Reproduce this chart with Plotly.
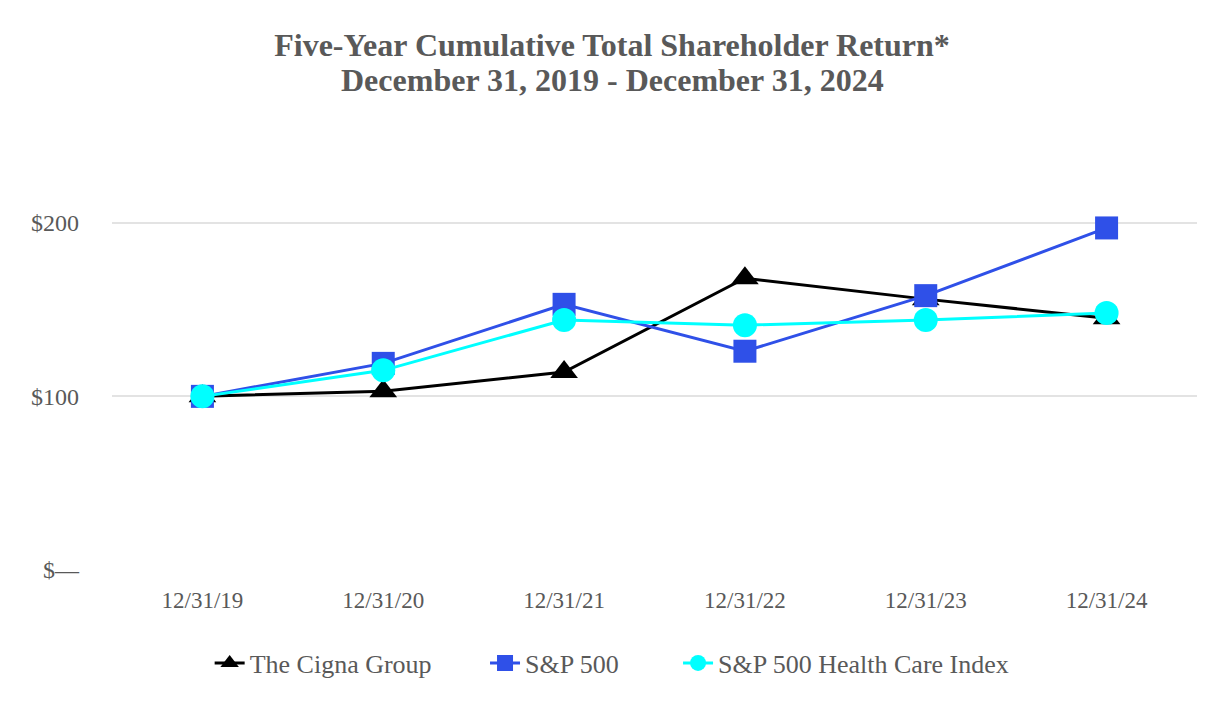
import plotly.graph_objects as go

categories = ["12/31/19", "12/31/20", "12/31/21", "12/31/22", "12/31/23", "12/31/24"]
cigna = [100, 103, 114, 168, 156, 145]
sp500 = [100, 119, 153, 126, 158, 197]
health = [100, 115, 144, 141, 144, 148]
y_ticks = [0, 100, 200]
y_tick_labels = ["$\u2014", "$100", "$200"]

GRAY = "#595959"
FONT = "Liberation Serif"

fig = go.Figure()
fig.add_trace(go.Scatter(x=categories, y=cigna, name="The Cigna Group", mode="lines+markers",
                         line=dict(color="#000000", width=3), legend="legend",
                         marker=dict(symbol="triangle-up", size=24, color="#000000")))
fig.add_trace(go.Scatter(x=categories, y=sp500, name="S&P 500", mode="lines+markers",
                         line=dict(color="#2f50e8", width=3), legend="legend2",
                         marker=dict(symbol="square", size=23, color="#2f50e8")))
fig.add_trace(go.Scatter(x=categories, y=health, name="S&P 500 Health Care Index", mode="lines+markers",
                         line=dict(color="#00ffff", width=3), legend="legend3",
                         marker=dict(symbol="circle", size=24, color="#00ffff")))

leg_common = dict(orientation="h", xanchor="left", y=-0.2435, yanchor="middle",
                  font=dict(family=FONT, size=26, color=GRAY), bgcolor="rgba(0,0,0,0)")

fig.update_layout(
    width=1226, height=720,
    paper_bgcolor="white", plot_bgcolor="white",
    margin=dict(l=104, r=37, t=180, b=158),
    font=dict(family=FONT, color=GRAY, size=20),
    title=dict(text="<b>Five-Year Cumulative Total Shareholder Return*</b>",
               x=(612 - 8) / 1226, xanchor="center", y=1 - 37 / 720, yanchor="middle",
               font=dict(family=FONT, size=32, color=GRAY)),
    annotations=[dict(text="<b>December 31, 2019 - December 31, 2024</b>",
                      xref="paper", yref="paper", x=(612 - 8 - 104) / 1085, y=(562 - 72) / 382,
                      xanchor="center", yanchor="middle", showarrow=False,
                      font=dict(family=FONT, size=32, color=GRAY))],
    showlegend=True,
    legend=dict(x=0.090, **leg_common),
    legend2=dict(x=0.3438, **leg_common),
    legend3=dict(x=0.5217, **leg_common),
    xaxis=dict(type="category", range=[-0.5, 5.5], showgrid=False, zeroline=False,
               showline=False, ticks="", tickfont=dict(family=FONT, size=23, color=GRAY),
               ticklabelstandoff=14),
    yaxis=dict(range=[0, 220], tickvals=y_ticks, ticktext=y_tick_labels, showgrid=True,
               gridcolor="#e3e3e3", gridwidth=2, zeroline=False, showline=False,
               tickfont=dict(family=FONT, size=24, color=GRAY), ticklabelstandoff=32),
)

fig.write_html("out.html")
